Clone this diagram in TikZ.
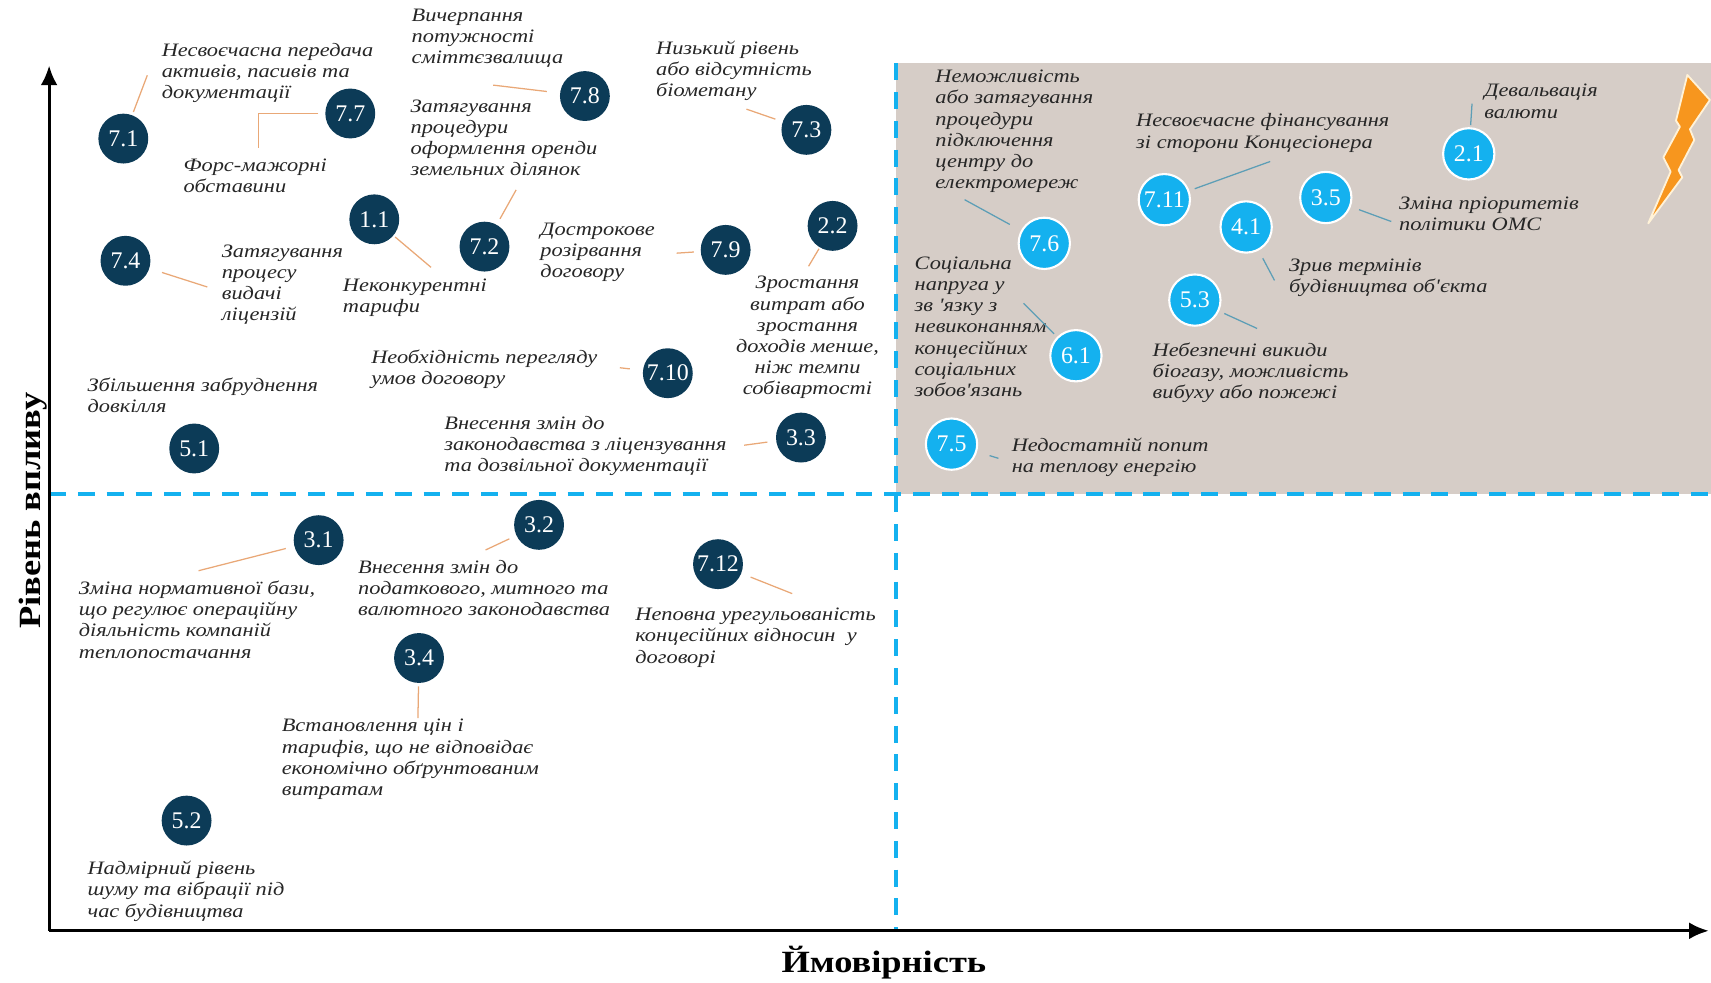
\documentclass[tikz,border=0pt]{standalone}
\usepackage{fontspec}
\setmainfont{Liberation Serif}
\newfontfamily\labelfont[FakeStretch=1.18]{Liberation Serif}
\usepackage{xcolor}
\usepackage{tikz}
\usetikzlibrary{arrows.meta}
\tikzset{>={Latex[length=14pt,width=12pt]}}
\definecolor{riskdark}{HTML}{0C3B57}
\definecolor{risklight}{HTML}{14B1EF}
\definecolor{zonefill}{HTML}{D6CDC7}
\definecolor{leaddark}{HTML}{E9A877}
\definecolor{leadlight}{HTML}{5D9EB6}
\definecolor{labeltext}{HTML}{262626}
\definecolor{boltfill}{HTML}{F7961E}
\definecolor{boltedge}{HTML}{FFF2D8}

\begin{document}
\begin{tikzpicture}[x=0.273mm,y=-0.273mm,
	dark/.style={circle,fill=riskdark,text=white,minimum size=35.5pt,inner sep=0pt,font=\fontsize{17}{17}\selectfont},
	light/.style={circle,fill=risklight,draw=white,line width=1.5pt,text=white,minimum size=36.5pt,inner sep=0pt,font=\fontsize{17}{17}\selectfont},
	lbl/.style={anchor=north west,align=left,inner sep=0pt,text=labeltext,font=\labelfont\itshape\fontsize{13.5}{15.1}\selectfont},
	axislbl/.style={inner sep=0pt,text=black,font=\labelfont\bfseries\fontsize{22}{22}\selectfont},
	lead/.style={draw=leaddark,line width=0.9pt},
	leadlt/.style={draw=leadlight,line width=0.9pt},
	lgap/.style={shorten <=#1},
	zoneline/.style={draw=risklight,line width=2.6pt,dash pattern=on 12pt off 8.5pt}]
	\useasboundingbox (0,0) rectangle (1568,900);
	\fill[zonefill] (821,58) rectangle (1568,453);
	\fill[boltfill,draw=boltedge,line width=1.3pt,line join=round] (1546.3,68.7) -- (1567,91.6) -- (1548.7,118.5) -- (1552.7,128.3) -- (1538.3,155.8) -- (1541.7,162.5) -- (1510.5,204.7) -- (1531,157.3) -- (1524.3,144.2) -- (1539.5,116.1) -- (1535.9,110.6) -- cycle;

	\coordinate (o) at (45,853);
	\coordinate (ytip) at (45,60);
	\coordinate (xtip) at (1566,853);
	\coordinate (hl) at (45,453);
	\coordinate (hr) at (1568,453);
	\coordinate (vt) at (821,58);
	\coordinate (vb) at (821,853);
	\draw[zoneline] (hl) -- (hr);
	\draw[zoneline] (vt) -- (vb);
	\draw[line width=2.2pt,->] (o) -- (ytip);
	\draw[line width=2.2pt,->] (o) -- (xtip);
	\node[axislbl,rotate=90,anchor=base] (ylbl) at (37,468) {Рівень впливу};
	\node[axislbl,anchor=base] (xlbl) at (810,891) {Ймовірність};

	\node[dark] (c71) at (113,127) {7.1};
	\node[dark] (c77) at (321,104) {7.7};
	\node[dark] (c78) at (536,88) {7.8};
	\node[dark] (c73) at (739,119) {7.3};
	\node[dark] (c11) at (343,201) {1.1};
	\node[dark] (c72) at (444,226) {7.2};
	\node[dark] (c74) at (115,239) {7.4};
	\node[dark] (c79) at (665,229) {7.9};
	\node[dark] (c22) at (763,207) {2.2};
	\node[dark] (c710) at (612,342) {7.10};
	\node[dark] (c51) at (178,411) {5.1};
	\node[dark] (c33) at (734,401) {3.3};
	\node[dark] (c31) at (292,495) {3.1};
	\node[dark] (c32) at (494,481) {3.2};
	\node[dark] (c712) at (658,517) {7.12};
	\node[dark] (c34) at (384,603) {3.4};
	\node[dark] (c52) at (171,752) {5.2};

	\node[light] (c76) at (957,223) {7.6};
	\node[light] (c711) at (1067,183) {7.11};
	\node[light] (c41) at (1142,208) {4.1};
	\node[light] (c35) at (1215,181) {3.5};
	\node[light] (c21) at (1346,141) {2.1};
	\node[light] (c53) at (1095,275) {5.3};
	\node[light] (c61) at (986,326) {6.1};
	\node[light] (c75) at (872,407) {7.5};

	\node[lbl] (t71) at (148,39) {Несвоєчасна передача\\активів, пасивів та\\документації};
	\node[lbl] (t77) at (168,145) {Форс-мажорні\\обставини};
	\node[lbl] (t78) at (377,8) {Вичерпання\\потужності\\сміттєзвалища};
	\node[lbl] (t72) at (376,91) {Затягування\\процедури\\оформлення оренди\\земельних ділянок};
	\node[lbl] (t73) at (601,37) {Низький рівень\\або відсутність\\біометану};
	\node[lbl] (t74) at (203,224) {Затягування\\процесу\\видачі\\ліцензій};
	\node[lbl] (t11) at (314,255) {Неконкурентні\\тарифи};
	\node[lbl] (t79) at (495,204) {Дострокове\\розірвання\\договору};
	\node[lbl,anchor=north,align=center] (t22) at (740,253) {Зростання\\витрат або\\зростання\\доходів менше,\\ніж темпи\\собівартості};
	\node[lbl] (t710) at (340,320) {Необхідність перегляду\\умов договору};
	\node[lbl] (t51) at (80,346) {Збільшення забруднення\\довкілля};
	\node[lbl] (t33) at (407,381) {Внесення змін до\\законодавства з ліцензування\\та дозвільної документації};
	\node[lbl] (t31) at (72,532) {Зміна нормативної бази,\\що регулює операційну\\діяльність компаній\\теплопостачання};
	\node[lbl] (t32) at (328,513) {Внесення змін до\\податкового, митного та\\валютного законодавства};
	\node[lbl] (t712) at (582,557) {Неповна урегульованість\\концесійних відносин\ \ у\\договорі};
	\node[lbl] (t34) at (258,659) {Встановлення цін і\\тарифів, що не відповідає\\економічно обґрунтованим\\витратам};
	\node[lbl] (t52) at (80,789) {Надмірний рівень\\шуму та вібрації під\\час будівництва};
	\node[lbl] (t76) at (857,64) {Неможливість\\або затягування\\процедури\\підключення\\центру до\\електромереж};
	\node[lbl] (t711) at (1041,104) {Несвоєчасне фінансування\\зі сторони Концесіонера};
	\node[lbl] (t21) at (1360,77) {Девальвація\\валюти};
	\node[lbl] (t35) at (1282,180) {Зміна пріоритетів\\політики ОМС};
	\node[lbl] (t41) at (1181,237) {Зрив термінів\\будівництва об'єкта};
	\node[lbl] (t61) at (838,235) {Соціальна\\напруга у\\зв 'язку з\\невиконанням\\концесійних\\соціальних\\зобов'язань};
	\node[lbl] (t53) at (1056,314) {Небезпечні викиди\\біогазу, можливість\\вибуху або пожежі};
	\node[lbl] (t75) at (927,401) {Недостатній попит\\на теплову енергію};

	\coordinate (l71) at (135,69);
	\coordinate (l77) at (237,136);
	\coordinate (l78) at (452,78);
	\coordinate (l73) at (684,100);
	\coordinate (l72) at (473,174);
	\coordinate (l11) at (395,245);
	\coordinate (l74) at (190,263);
	\coordinate (l79) at (620,232);
	\coordinate (l22) at (741,244);
	\coordinate (l710) at (568,337);
	\coordinate (l33) at (682,408);
	\coordinate (l31) at (182,523);
	\coordinate (l32) at (445,504);
	\coordinate (l712) at (726,544);
	\coordinate (l34) at (383,658);
	\coordinate (l76) at (884,183);
	\coordinate (l711) at (1164,148);
	\coordinate (l41) at (1168,257);
	\coordinate (l35) at (1275,203);
	\coordinate (l21) at (1349,95);
	\coordinate (l53) at (1152,301);
	\coordinate (l61) at (938,278);
	\coordinate (l75) at (915,420);

	\draw[lead,lgap=2.3pt] (c71) -- (l71);
	\draw[lead,lgap=4.7pt] (c77) -| (l77);
	\draw[lead,lgap=9.3pt] (c78) -- (l78);
	\draw[lead,lgap=5.4pt] (c73) -- (l73);
	\draw[lead,lgap=4.7pt] (c72) -- (l72);
	\draw[lead,lgap=1.5pt] (c11) -- (l11);
	\draw[lead,lgap=9.3pt] (c74) -- (l74);
	\draw[lead,lgap=4.7pt] (c79) -- (l79);
	\draw[lead,lgap=1pt] (c22) -- (l22);
	\draw[lead,lgap=9.3pt] (c710) -- (l710);
	\draw[lead,lgap=6.2pt] (c33) -- (l33);
	\draw[lead,lgap=6.2pt] (c31) -- (l31);
	\draw[lead,lgap=5.4pt] (c32) -- (l32);
	\draw[lead,lgap=7pt] (c712) -- (l712);
	\draw[lead,lgap=2.3pt] (c34) -- (l34);
	\draw[leadlt,lgap=9pt] (c76) -- (l76);
	\draw[leadlt,lgap=4pt] (c711) -- (l711);
	\draw[leadlt,lgap=6.2pt] (c41) -- (l41);
	\draw[leadlt,lgap=6.2pt] (c35) -- (l35);
	\draw[leadlt,lgap=1.5pt] (c21) -- (l21);
	\draw[leadlt,lgap=4pt] (c53) -- (l53);
	\draw[leadlt,lgap=3pt] (c61) -- (l61);
	\draw[leadlt,lgap=9.3pt] (c75) -- (l75);
\end{tikzpicture}
\end{document}
